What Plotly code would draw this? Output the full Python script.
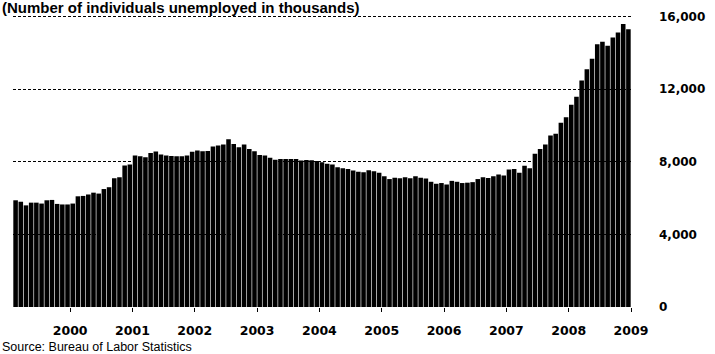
import plotly.graph_objects as go

# Monthly unemployed (thousands), Jan 2000 - Nov 2009
values_2000 = [5880, 5800, 5600, 5750, 5750, 5700, 5880, 5900, 5680, 5650, 5650, 5700]
values_2001 = [6100, 6120, 6200, 6300, 6250, 6500, 6600, 7100, 7150, 7800, 7850, 8350]
values_2002 = [8300, 8250, 8480, 8570, 8400, 8350, 8320, 8300, 8300, 8350, 8550, 8620]
values_2003 = [8580, 8600, 8850, 8900, 8950, 9250, 8980, 8800, 8950, 8700, 8580, 8380]
values_2004 = [8350, 8220, 8120, 8150, 8150, 8160, 8150, 8070, 8100, 8080, 8050, 7980]
values_2005 = [7900, 7850, 7700, 7650, 7600, 7520, 7450, 7420, 7530, 7480, 7400, 7200]
values_2006 = [7050, 7120, 7100, 7150, 7100, 7200, 7120, 7080, 6900, 6790, 6830, 6750]
values_2007 = [6950, 6900, 6830, 6850, 6880, 7050, 7150, 7110, 7200, 7300, 7250, 7570]
values_2008 = [7600, 7400, 7780, 7650, 8450, 8700, 8950, 9450, 9550, 10150, 10450, 11150]
values_2009 = [11580, 12480, 13100, 13680, 14480, 14620, 14400, 14850, 15120, 15600, 15300]

year_labels = ["2000", "2001", "2002", "2003", "2004", "2005", "2006", "2007", "2008", "2009"]
y_ticks = [0, 4000, 8000, 12000, 16000]
y_tick_text = ["0", "4,000", "8,000", "12,000", "16,000"]

values = (values_2000 + values_2001 + values_2002 + values_2003 + values_2004 +
          values_2005 + values_2006 + values_2007 + values_2008 + values_2009)
months = list(range(len(values)))
# ticks drawn near each year's end
tick_pos = [10.5 + 12 * k for k in range(len(year_labels))]

fig = go.Figure(go.Bar(x=months, y=values, marker=dict(color="black", line=dict(width=0))))

fig.update_layout(
    width=715, height=354,
    margin=dict(l=13, r=75, t=10, b=47),
    paper_bgcolor="white", plot_bgcolor="white",
    bargap=0.12,
    showlegend=False,
    font=dict(family="DejaVu Sans", color="black"),
)
fig.update_xaxes(
    range=[-0.5, len(values) - 0.5],
    tickvals=tick_pos, ticktext=year_labels,
    ticks="outside", ticklen=4, tickwidth=1, tickcolor="black",
    ticklabelstandoff=8,
    tickfont=dict(family="DejaVu Sans", size=12.5, weight="bold"),
    showgrid=False, zeroline=False, showline=False,
)
fig.update_yaxes(
    side="right", range=[0, 16200],
    tickvals=y_ticks, ticktext=y_tick_text,
    ticks="", ticklabelstandoff=27,
    tickfont=dict(family="DejaVu Sans", size=12, weight="bold"),
    showgrid=True, gridcolor="black", gridwidth=1, griddash="3px,2px",
    zeroline=False, showline=False,
)
fig.add_annotation(
    text="(Number of individuals unemployed in thousands)",
    xref="paper", yref="paper", x=0, y=1, xanchor="left", yanchor="middle",
    xshift=-13, yshift=6, showarrow=False,
    font=dict(family="Liberation Sans", size=15, weight="bold", color="black"),
)
fig.add_annotation(
    text="Source: Bureau of Labor Statistics",
    xref="paper", yref="paper", x=0, y=0, xanchor="left", yanchor="middle",
    xshift=-13, yshift=-40, showarrow=False,
    font=dict(family="Liberation Sans", size=12.5, color="black"),
)
fig.write_html(
    "out.html",
    config={"displayModeBar": False},
    post_script="document.body.style.margin='0';document.body.style.overflow='hidden';",
)
